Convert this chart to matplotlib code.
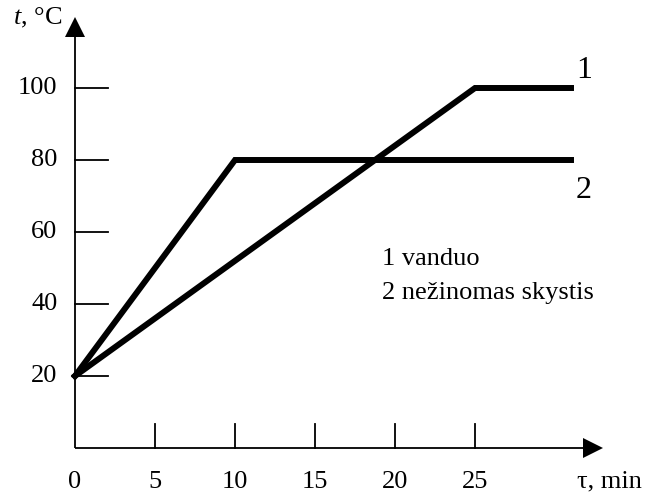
import matplotlib.pyplot as plt

plt.rcParams['font.family'] = ['Liberation Serif', 'DejaVu Serif']
plt.rcParams['mathtext.fontset'] = 'custom'
plt.rcParams['mathtext.rm'] = 'Liberation Serif'
plt.rcParams['mathtext.it'] = 'Liberation Serif:italic'

# data
tau_1 = [0, 25, 31]
temp_1 = [20, 100, 100]
tau_2 = [0, 10, 31]
temp_2 = [20, 80, 80]

x_ticks = [0, 5, 10, 15, 20, 25]
y_ticks = [20, 40, 60, 80, 100]

fig = plt.figure(figsize=(6.54, 4.95), dpi=100)
ax = fig.add_axes([0, 0, 1, 1])
ax.set_xlim(-75 / 16, (654 - 75) / 16)
ax.set_ylim(-47 / 3.6, 448 / 3.6)
ax.axis('off')

fs = 19

# axes with arrows
ax.plot([0, 32.4], [0, 0], color='black', lw=1.3, solid_capstyle='butt')
ax.plot([0, 0], [0, 117], color='black', lw=1.3, solid_capstyle='butt')
ax.plot(32.4, 0, marker='>', ms=14.4, color='black', mew=0)
ax.plot(0, 116.9, marker='^', ms=14.4, color='black', mew=0)

# ticks
for x in x_ticks[1:]:
    ax.plot([x, x], [0, 6.7], color='black', lw=1.3)
for x in x_ticks:
    ax.text(x, -9.4, str(x), ha='center', va='center', fontsize=fs)
for y in y_ticks:
    ax.plot([0, 2.06], [y, y], color='black', lw=1.3)
    ax.text(-1.1, y, str(y), ha='right', va='center', fontsize=fs)

# axis labels
ax.text(-0.8, 119.5, r'$t$, °C', ha='right', va='center', fontsize=fs)
ax.text(33.4, -9.4, 'τ, min', ha='center', va='center', fontsize=fs)

# curves
ax.plot(tau_1, temp_1, color='black', lw=4.3, solid_joinstyle='miter')
ax.plot(tau_2, temp_2, color='black', lw=4.3, solid_joinstyle='miter')

ax.text(31.8, 105, '1', ha='center', va='center', fontsize=23)
ax.text(31.8, 71.5, '2', ha='center', va='center', fontsize=23)

ax.text(19.2, 52.5, '1 vanduo', ha='left', va='center', fontsize=fs)
ax.text(19.2, 43, '2 nežinomas skystis', ha='left', va='center', fontsize=fs)

fig.savefig('out.png', dpi=100)
